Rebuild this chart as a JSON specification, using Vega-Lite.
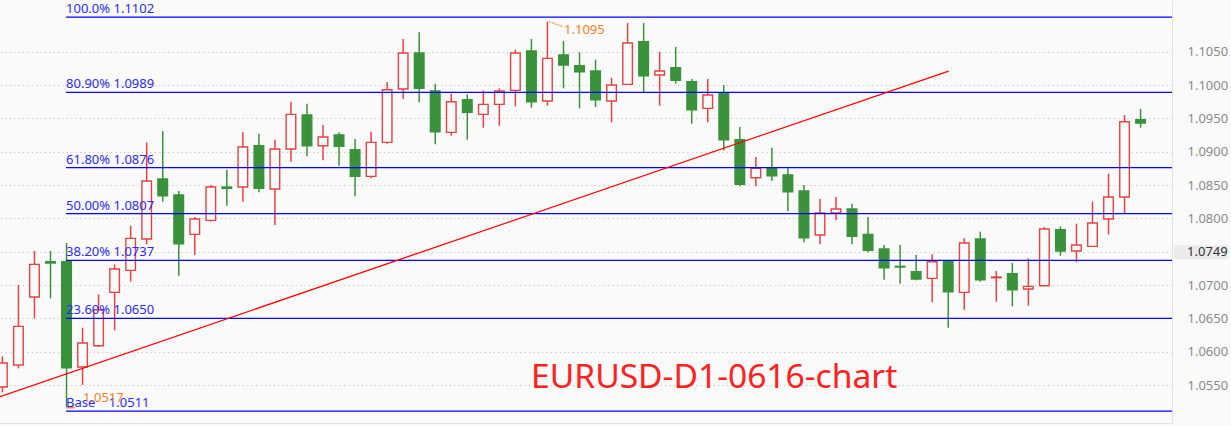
{
  "$schema": "https://vega.github.io/schema/vega-lite/v6.json",
  "width": 1172,
  "height": 423,
  "autosize": {"type": "none"},
  "padding": {"left": 0, "top": 0, "right": 59, "bottom": 3},
  "background": "#fafafa",
  "config": {
    "view": {"stroke": null},
    "font": "Noto Sans",
    "axisX": {"labels": false, "ticks": false, "grid": false, "domain": true, "domainColor": "#e2e2e2", "title": null},
    "axisY": {"ticks": false, "domain": true, "domainColor": "#e2e2e2", "labelFont": "Noto Sans", "labelFontSize": 13,
              "labelColor": "#8a8a8a", "labelPadding": 15, "grid": true, "gridColor": "#c4c4c4",
              "gridDash": [1.2, 3.2], "gridWidth": 1, "title": null}
  },
  "datasets": {
    "candles": [
      {"i":0,"o":1.0547,"h":1.0593,"l":1.0539,"c":1.0583},
      {"i":1,"o":1.0580,"h":1.0700,"l":1.0575,"c":1.0638},
      {"i":2,"o":1.0682,"h":1.0751,"l":1.0650,"c":1.0731},
      {"i":3,"o":1.0735,"h":1.0751,"l":1.0680,"c":1.0733},
      {"i":4,"o":1.0735,"h":1.0763,"l":1.0517,"c":1.0576},
      {"i":5,"o":1.0577,"h":1.0636,"l":1.0550,"c":1.0613},
      {"i":6,"o":1.0609,"h":1.0686,"l":1.0607,"c":1.0663},
      {"i":7,"o":1.0689,"h":1.0731,"l":1.0632,"c":1.0724},
      {"i":8,"o":1.0722,"h":1.0789,"l":1.0705,"c":1.0770},
      {"i":9,"o":1.0769,"h":1.0914,"l":1.0761,"c":1.0856},
      {"i":10,"o":1.0859,"h":1.0931,"l":1.0825,"c":1.0834},
      {"i":11,"o":1.0835,"h":1.0841,"l":1.0714,"c":1.0762},
      {"i":12,"o":1.0776,"h":1.0802,"l":1.0745,"c":1.0799},
      {"i":13,"o":1.0797,"h":1.0850,"l":1.0795,"c":1.0847},
      {"i":14,"o":1.0847,"h":1.0873,"l":1.0819,"c":1.0845},
      {"i":15,"o":1.0847,"h":1.0929,"l":1.0825,"c":1.0907},
      {"i":16,"o":1.0909,"h":1.0927,"l":1.0839,"c":1.0845},
      {"i":17,"o":1.0844,"h":1.0918,"l":1.0790,"c":1.0904},
      {"i":18,"o":1.0904,"h":1.0975,"l":1.0885,"c":1.0956},
      {"i":19,"o":1.0955,"h":1.0972,"l":1.0893,"c":1.0909},
      {"i":20,"o":1.0909,"h":1.0940,"l":1.0887,"c":1.0922},
      {"i":21,"o":1.0925,"h":1.0929,"l":1.0879,"c":1.0908},
      {"i":22,"o":1.0903,"h":1.0919,"l":1.0833,"c":1.0863},
      {"i":23,"o":1.0863,"h":1.0930,"l":1.0860,"c":1.0914},
      {"i":24,"o":1.0914,"h":1.1004,"l":1.0912,"c":1.0993},
      {"i":25,"o":1.0994,"h":1.1069,"l":1.0979,"c":1.1048},
      {"i":26,"o":1.1048,"h":1.1079,"l":1.0974,"c":1.0995},
      {"i":27,"o":1.0991,"h":1.1002,"l":1.0911,"c":1.0930},
      {"i":28,"o":1.0929,"h":1.0987,"l":1.0924,"c":1.0975},
      {"i":29,"o":1.0978,"h":1.0986,"l":1.0918,"c":1.0959},
      {"i":30,"o":1.0956,"h":1.0992,"l":1.0936,"c":1.0971},
      {"i":31,"o":1.0971,"h":1.0995,"l":1.0939,"c":1.0991},
      {"i":32,"o":1.0992,"h":1.1053,"l":1.0968,"c":1.1048},
      {"i":33,"o":1.1051,"h":1.1069,"l":1.0966,"c":1.0975},
      {"i":34,"o":1.0976,"h":1.1095,"l":1.0969,"c":1.1040},
      {"i":35,"o":1.1045,"h":1.1066,"l":1.0995,"c":1.1030},
      {"i":36,"o":1.1029,"h":1.1049,"l":1.0965,"c":1.1020},
      {"i":37,"o":1.1021,"h":1.1038,"l":1.0967,"c":1.0978},
      {"i":38,"o":1.0976,"h":1.1011,"l":1.0944,"c":1.1000},
      {"i":39,"o":1.1001,"h":1.1093,"l":1.1000,"c":1.1063},
      {"i":40,"o":1.1065,"h":1.1093,"l":1.0990,"c":1.1014},
      {"i":41,"o":1.1015,"h":1.1050,"l":1.0969,"c":1.1021},
      {"i":42,"o":1.1026,"h":1.1057,"l":1.1002,"c":1.1007},
      {"i":43,"o":1.1005,"h":1.1009,"l":1.0942,"c":1.0963},
      {"i":44,"o":1.0965,"h":1.1009,"l":1.0944,"c":1.0985},
      {"i":45,"o":1.0987,"h":1.1000,"l":1.0902,"c":1.0918},
      {"i":46,"o":1.0918,"h":1.0937,"l":1.0848,"c":1.0851},
      {"i":47,"o":1.0861,"h":1.0892,"l":1.0848,"c":1.0875},
      {"i":48,"o":1.0875,"h":1.0906,"l":1.0856,"c":1.0864},
      {"i":49,"o":1.0865,"h":1.0875,"l":1.0811,"c":1.0840},
      {"i":50,"o":1.0841,"h":1.0850,"l":1.0764,"c":1.0771},
      {"i":51,"o":1.0775,"h":1.0829,"l":1.0761,"c":1.0808},
      {"i":52,"o":1.0808,"h":1.0832,"l":1.0797,"c":1.0814},
      {"i":53,"o":1.0814,"h":1.0822,"l":1.0761,"c":1.0773},
      {"i":54,"o":1.0776,"h":1.0802,"l":1.0749,"c":1.0752},
      {"i":55,"o":1.0754,"h":1.0760,"l":1.0708,"c":1.0726},
      {"i":56,"o":1.0728,"h":1.0760,"l":1.0702,"c":1.0727},
      {"i":57,"o":1.0720,"h":1.0745,"l":1.0707,"c":1.0709},
      {"i":58,"o":1.0710,"h":1.0746,"l":1.0674,"c":1.0735},
      {"i":59,"o":1.0735,"h":1.0738,"l":1.0636,"c":1.0690},
      {"i":60,"o":1.0689,"h":1.0770,"l":1.0663,"c":1.0763},
      {"i":61,"o":1.0769,"h":1.0780,"l":1.0705,"c":1.0708},
      {"i":62,"o":1.0711,"h":1.0721,"l":1.0675,"c":1.0712},
      {"i":63,"o":1.0717,"h":1.0733,"l":1.0668,"c":1.0693},
      {"i":64,"o":1.0694,"h":1.0740,"l":1.0669,"c":1.0698},
      {"i":65,"o":1.0699,"h":1.0787,"l":1.0698,"c":1.0784},
      {"i":66,"o":1.0783,"h":1.0788,"l":1.0744,"c":1.0751},
      {"i":67,"o":1.0751,"h":1.0792,"l":1.0734,"c":1.0760},
      {"i":68,"o":1.0758,"h":1.0825,"l":1.0757,"c":1.0793},
      {"i":69,"o":1.0799,"h":1.0867,"l":1.0776,"c":1.0832},
      {"i":70,"o":1.0832,"h":1.0955,"l":1.0807,"c":1.0945},
      {"i":71,"o":1.0948,"h":1.0964,"l":1.0936,"c":1.0943}
    ],
    "fib": [
      {"label":"100.0% 1.1102","price":1.1102},
      {"label":"80.90% 1.0989","price":1.0989},
      {"label":"61.80% 1.0876","price":1.0876},
      {"label":"50.00% 1.0807","price":1.0807},
      {"label":"38.20% 1.0737","price":1.0737},
      {"label":"23.60% 1.0650","price":1.0650},
      {"label":"Base\u00a0\u00a0\u00a0\u00a01.0511","price":1.0511}
    ],
    "trend": [
      {"t":-0.15,"p":1.05325},
      {"t":59.03,"p":1.1021}
    ],
    "extremes": [
      {"i":34,"p":1.1095,"kind":"high"},
      {"i":4,"p":1.0517,"kind":"low"}
    ],
    "last": [{"price":1.0749}]
  },
  "layer": [
    {
      "data": {"name": "candles"},
      "mark": {"type": "rule", "strokeWidth": 1.5},
      "encoding": {
        "x": {"field": "i", "type": "quantitative", "title": null,
              "scale": {"domain": [-0.15, 72.96], "nice": false, "zero": false, "padding": 0},
              "axis": {"orient": "bottom"}},
        "y": {"field": "l", "type": "quantitative", "title": null,
              "scale": {"domain": [1.049305, 1.112755], "nice": false, "zero": false, "padding": 0},
              "axis": {"orient": "right", "format": ".4f",
                       "values": [1.055, 1.06, 1.065, 1.07, 1.075, 1.08, 1.085, 1.09, 1.095, 1.1, 1.105]}},
        "y2": {"field": "h"},
        "color": {"condition": {"test": "datum.c >= datum.o", "value": "#e54343"}, "value": "#3a923a"}
      }
    },
    {
      "data": {"name": "candles"},
      "mark": {"type": "bar", "width": 9.6, "strokeWidth": 1.4},
      "encoding": {
        "x": {"field": "i", "type": "quantitative", "title": null},
        "y": {"field": "o", "type": "quantitative", "title": null},
        "y2": {"field": "c"},
        "fill": {"condition": {"test": "datum.c >= datum.o", "value": "#fafafa"}, "value": "#3a923a"},
        "stroke": {"condition": {"test": "datum.c >= datum.o", "value": "#e54343"}, "value": "#3a923a"}
      }
    },
    {
      "data": {"name": "fib"},
      "mark": {"type": "rule", "color": "#0000ff", "strokeWidth": 1.3},
      "encoding": {
        "x": {"datum": 3.97, "type": "quantitative", "title": null},
        "x2": {"datum": 72.96},
        "y": {"field": "price", "type": "quantitative", "title": null}
      }
    },
    {
      "data": {"name": "trend"},
      "mark": {"type": "line", "color": "#ff0000", "strokeWidth": 1.3},
      "encoding": {
        "x": {"field": "t", "type": "quantitative", "title": null},
        "y": {"field": "p", "type": "quantitative", "title": null}
      }
    },
    {
      "data": {"name": "fib"},
      "mark": {"type": "text", "align": "left", "baseline": "alphabetic", "dy": -4, "fontSize": 13, "font": "Noto Sans", "color": "#2a2aff"},
      "encoding": {
        "x": {"datum": 3.97, "type": "quantitative", "title": null},
        "y": {"field": "price", "type": "quantitative", "title": null},
        "text": {"field": "label"}
      }
    },
    {
      "data": {"name": "extremes"},
      "transform": [{"filter": "datum.kind == 'high'"}],
      "mark": {"type": "text", "align": "left", "baseline": "alphabetic", "dx": 16.6, "dy": 12.3, "fontSize": 13, "font": "Noto Sans", "color": "#f58220"},
      "encoding": {
        "x": {"field": "i", "type": "quantitative", "title": null},
        "y": {"field": "p", "type": "quantitative", "title": null},
        "text": {"field": "p", "format": ".4f"}
      }
    },
    {
      "data": {"name": "extremes"},
      "transform": [{"filter": "datum.kind == 'low'"}],
      "mark": {"type": "text", "align": "left", "baseline": "alphabetic", "dx": 16.5, "dy": -5.5, "fontSize": 13, "font": "Noto Sans", "color": "#f58220"},
      "encoding": {
        "x": {"field": "i", "type": "quantitative", "title": null},
        "y": {"field": "p", "type": "quantitative", "title": null},
        "text": {"field": "p", "format": ".4f"}
      }
    },
    {
      "data": {"values": [{}]},
      "mark": {"type": "rule", "color": "#f58220", "strokeWidth": 1, "strokeDash": [2, 1]},
      "encoding": {
        "x": {"datum": 34.1, "type": "quantitative", "title": null},
        "x2": {"datum": 34.98},
        "y": {"datum": 1.1095, "type": "quantitative", "title": null},
        "y2": {"datum": 1.10875}
      }
    },
    {
      "data": {"values": [{}]},
      "mark": {"type": "rule", "color": "#f58220", "strokeWidth": 1.5},
      "encoding": {
        "x": {"datum": 4.0, "type": "quantitative", "title": null},
        "x2": {"datum": 4.5},
        "y": {"datum": 1.0516, "type": "quantitative", "title": null}
      }
    },
    {
      "data": {"values": [{"title": "EURUSD-D1-0616-chart"}]},
      "mark": {"type": "text", "align": "center", "baseline": "alphabetic", "fontSize": 33.6, "font": "Noto Sans", "color": "#ff2020"},
      "encoding": {
        "x": {"datum": 44.4, "type": "quantitative", "title": null},
        "y": {"datum": 1.05451, "type": "quantitative", "title": null},
        "text": {"field": "title"}
      }
    },
    {
      "data": {"name": "last"},
      "mark": {"type": "rect", "fill": "#ebebeb", "yOffset": -7, "y2Offset": 7},
      "encoding": {
        "x": {"datum": 73.09, "type": "quantitative", "title": null},
        "x2": {"datum": 76.46},
        "y": {"field": "price", "type": "quantitative", "title": null},
        "y2": {"field": "price"}
      }
    },
    {
      "data": {"name": "last"},
      "mark": {"type": "text", "align": "left", "baseline": "middle", "fontSize": 13, "font": "Noto Sans", "color": "#333333"},
      "encoding": {
        "x": {"datum": 73.9, "type": "quantitative", "title": null},
        "y": {"field": "price", "type": "quantitative", "title": null},
        "text": {"field": "price", "format": ".4f"}
      }
    }
  ]
}
